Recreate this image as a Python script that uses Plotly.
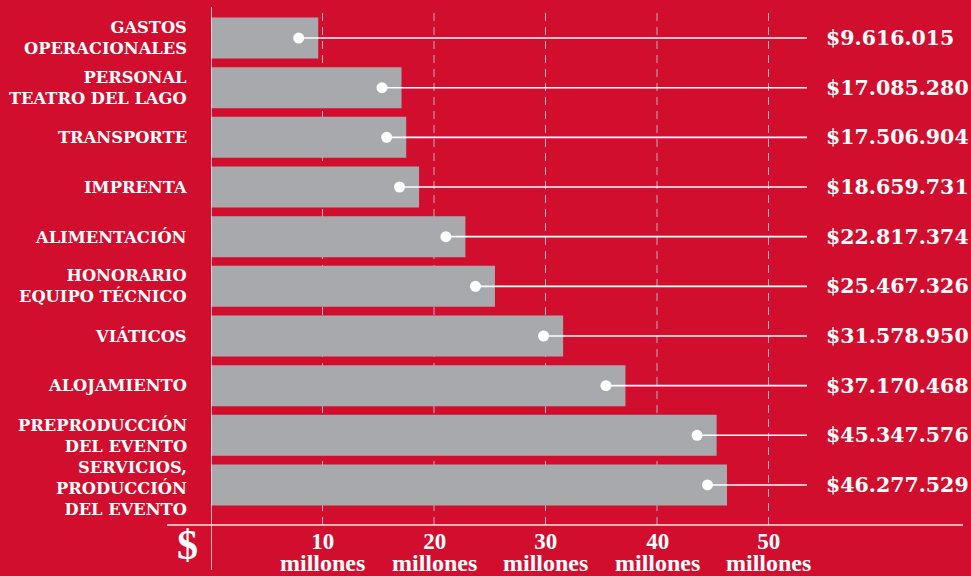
import plotly.graph_objects as go

categories = [
    "GASTOS<br>OPERACIONALES",
    "PERSONAL<br>TEATRO DEL LAGO",
    "TRANSPORTE",
    "IMPRENTA",
    "ALIMENTACIÓN",
    "HONORARIO<br>EQUIPO TÉCNICO",
    "VIÁTICOS",
    "ALOJAMIENTO",
    "PREPRODUCCIÓN<br>DEL EVENTO",
    "SERVICIOS,<br>PRODUCCIÓN<br>DEL EVENTO",
]
amounts = [9616015, 17085280, 17506904, 18659731, 22817374,
           25467326, 31578950, 37170468, 45347576, 46277529]
value_labels = ["$9.616.015", "$17.085.280", "$17.506.904", "$18.659.731", "$22.817.374",
                "$25.467.326", "$31.578.950", "$37.170.468", "$45.347.576", "$46.277.529"]
tick_values = [10, 20, 30, 40, 50]
tick_unit = "millones"

W, H = 971, 576
RED = "#D20E2E"
GREY = "#A8A9AC"
FONT = "DejaVu Serif"
FONT2 = "Liberation Serif"
PX_PER_M = 11.15
X0_PX = 211
DOT_INSET = 1.75
LINE_END = 53.45
LABEL_X = 54.95

millions = [a / 1e6 for a in amounts]
xmax = (W - X0_PX) / PX_PER_M
n = len(categories)

# y domain: top of first band at px 13.2, bottom of last at 509.8
ydom = [(H - 509.8) / H, (H - 13.2) / H]

fig = go.Figure()
fig.add_trace(go.Bar(
    y=categories, x=millions, orientation="h",
    marker=dict(color=GREY, line=dict(width=0)),
    hoverinfo="skip",
))

# connector lines and dots
for cat, m in zip(categories, millions):
    fig.add_trace(go.Scatter(
        x=[m - DOT_INSET, LINE_END], y=[cat, cat], mode="lines",
        line=dict(color="white", width=1.6), hoverinfo="skip",
    ))
fig.add_trace(go.Scatter(
    x=[m - DOT_INSET for m in millions], y=categories, mode="markers",
    marker=dict(color="white", size=11), hoverinfo="skip",
))

shapes = []
for tv in tick_values:
    shapes.append(dict(type="line", xref="x", yref="paper", x0=tv, x1=tv,
                       y0=(H - 525) / H, y1=(H - 8) / H,
                       line=dict(color="rgba(190,205,210,0.85)", width=1, dash="8px,6px"),
                       layer="below"))
# vertical axis line
shapes.append(dict(type="line", xref="x", yref="paper", x0=0, x1=0,
                   y0=(H - 570) / H, y1=(H - 7) / H,
                   line=dict(color="#F2E6E8", width=1.5)))
# horizontal baseline
shapes.append(dict(type="line", xref="paper", yref="paper", x0=167 / W, x1=963 / W,
                   y0=(H - 525) / H, y1=(H - 525) / H,
                   line=dict(color="#F2E6E8", width=1.5)))

annotations = []
for i, cat in enumerate(categories):
    nlines = cat.count("<br>") + 1
    annotations.append(dict(xref="paper", yref="y", x=189 / W, y=cat, text=cat,
                            xanchor="right", yanchor="middle", align="right", showarrow=False,
                            yshift=-4 if nlines == 3 else 0,
                            font=dict(family=FONT, size=16.3, color="white", weight="bold")))
for cat, lab in zip(categories, value_labels):
    annotations.append(dict(xref="x", yref="y", x=LABEL_X, y=cat, text=lab,
                            xanchor="left", yanchor="middle", showarrow=False,
                            font=dict(family=FONT, size=20.5, color="white", weight="bold")))
for tv in tick_values:
    txt = ("<span style='font-size:23px'>%d</span><br>"
           "<span style='font-size:24px'>%s</span>" % (tv, tick_unit))
    annotations.append(dict(xref="x", yref="paper", x=tv, y=(H - 552) / H, text=txt,
                            xanchor="center", yanchor="middle", align="center", showarrow=False,
                            font=dict(family=FONT2, size=17, color="white", weight="bold")))
annotations.append(dict(xref="paper", yref="paper", x=187 / W, y=(H - 545) / H, text="$",
                        xanchor="center", yanchor="middle", showarrow=False,
                        font=dict(family=FONT2, size=42, color="white", weight="bold")))

fig.update_layout(
    width=W, height=H,
    margin=dict(l=0, r=0, t=0, b=0, pad=0),
    paper_bgcolor=RED, plot_bgcolor=RED,
    showlegend=False,
    bargap=0.175,
    xaxis=dict(domain=[X0_PX / W, 1], range=[0, xmax], showgrid=False, zeroline=False,
               showticklabels=False, showline=False, fixedrange=True),
    yaxis=dict(domain=ydom, range=[n - 0.5, -0.5], autorange=False, showgrid=False,
               zeroline=False, showticklabels=False, showline=False, type="category",
               fixedrange=True),
    shapes=shapes,
    annotations=annotations,
)

fig.write_html("out.html")
